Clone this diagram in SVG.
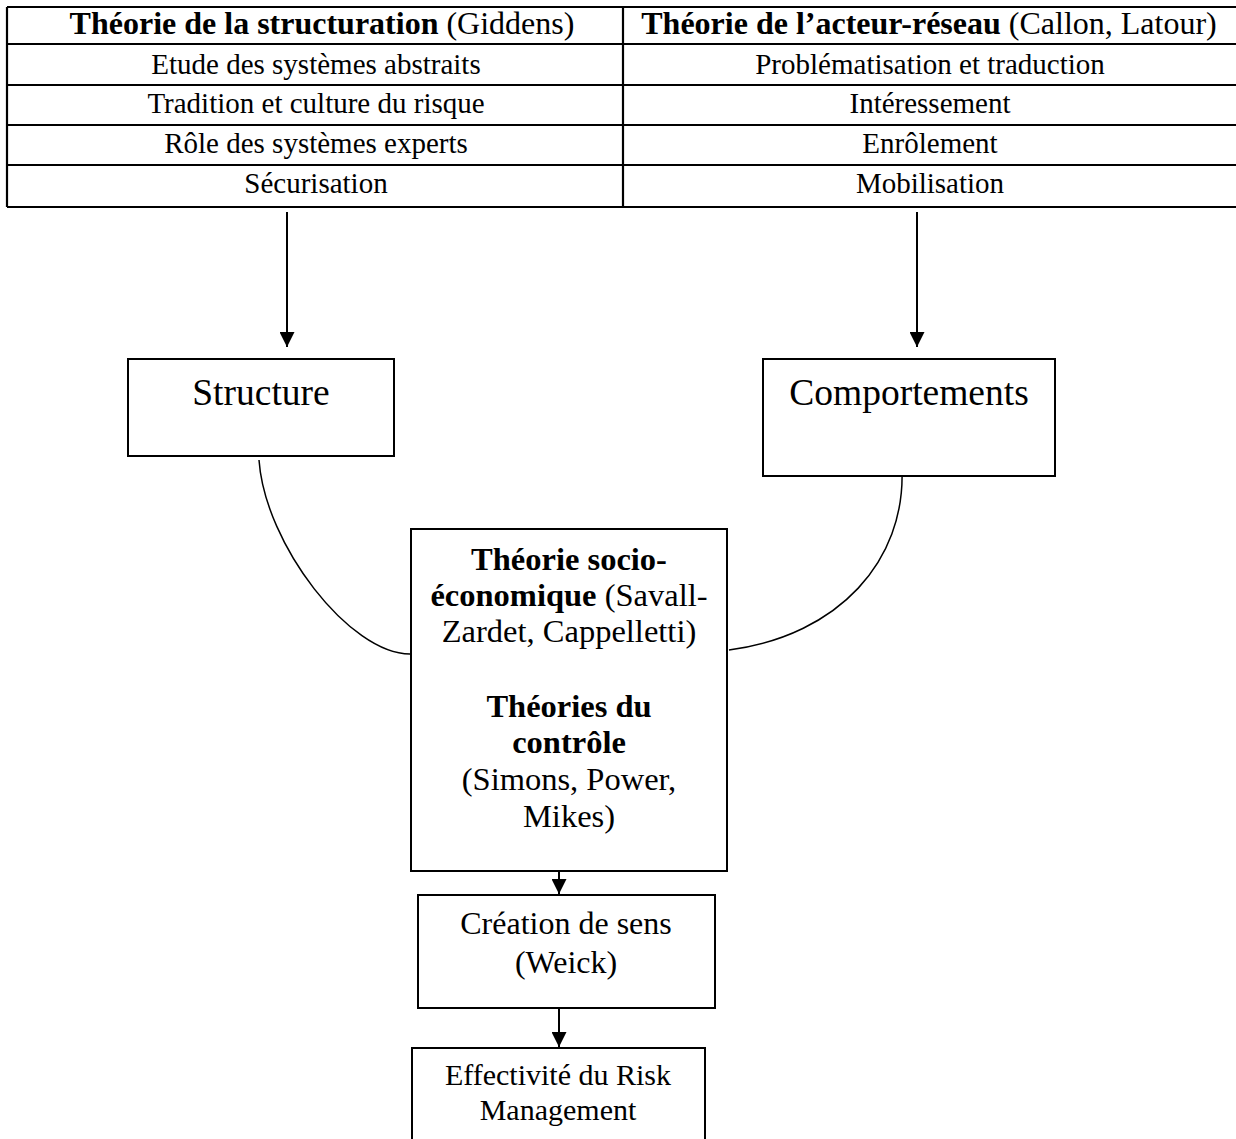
<svg xmlns="http://www.w3.org/2000/svg" width="1236" height="1139" viewBox="0 0 1236 1139">
<defs>
<style>
text{font-family:"Liberation Serif","Times New Roman",serif;fill:#000;text-anchor:middle}
.t{font-size:29px}
.h{font-size:32px}
.b{font-weight:bold}
.big{font-size:37.5px}
.mid{font-size:32.5px}
.cr{font-size:32px}
.sm{font-size:30px}
.box{fill:#fff;stroke:#000;stroke-width:2}
.grid{stroke:#000;stroke-width:2.2;fill:none}
.con{stroke:#000;stroke-width:2;fill:none}
.crv{stroke:#000;stroke-width:1.5;fill:none}
</style>
<marker id="arr" viewBox="0 0 10 10" refX="10" refY="5" markerWidth="7.5" markerHeight="7.5" markerUnits="strokeWidth" orient="auto">
<path d="M0,0 L10,5 L0,10 z" fill="#000"/>
</marker>
</defs>
<rect width="1236" height="1139" fill="#fff"/>
<g id="table">
<path class="grid" d="M7,7H1236M7,44H1236M7,85H1236M7,125H1236M7,165H1236M7,207H1236M7,7V207M623,7V207"/>
<text class="h" x="322" y="34"><tspan class="b">Théorie de la structuration</tspan> (Giddens)</text>
<text class="h" x="929" y="34"><tspan class="b">Théorie de l’acteur-réseau</tspan> (Callon, Latour)</text>
<text class="t" x="316" y="74">Etude des systèmes abstraits</text>
<text class="t" x="316" y="113">Tradition et culture du risque</text>
<text class="t" x="316" y="153">Rôle des systèmes experts</text>
<text class="t" x="316" y="193">Sécurisation</text>
<text class="t" x="930" y="74">Problématisation et traduction</text>
<text class="t" x="930" y="113">Intéressement</text>
<text class="t" x="930" y="153">Enrôlement</text>
<text class="t" x="930" y="193">Mobilisation</text>
</g>
<g id="connectors">
<line class="con" x1="287" y1="212" x2="287" y2="347" marker-end="url(#arr)"/>
<line class="con" x1="917" y1="212" x2="917" y2="347" marker-end="url(#arr)"/>
<path class="crv" d="M259,460 C265,545 350,654 410,654"/>
<path class="crv" d="M902,470 C905,560 840,635 729,650"/>
<line class="con" x1="559" y1="871" x2="559" y2="894" marker-end="url(#arr)"/>
<line class="con" x1="559" y1="1008" x2="559" y2="1047" marker-end="url(#arr)"/>
</g>
<g id="structure">
<rect class="box" x="128" y="359" width="266" height="97"/>
<text class="big" x="261" y="405">Structure</text>
</g>
<g id="comportements">
<rect class="box" x="763" y="359" width="292" height="117"/>
<text class="big" x="909" y="405">Comportements</text>
</g>
<g id="theories">
<rect class="box" x="411" y="529" width="316" height="342"/>
<text class="mid b" x="569" y="570">Théorie socio-</text>
<text class="mid" x="569" y="606"><tspan class="b">économique</tspan> (Savall-</text>
<text class="mid" x="569" y="642">Zardet, Cappelletti)</text>
<text class="mid b" x="569" y="717">Théories du</text>
<text class="mid b" x="569" y="753">contrôle</text>
<text class="mid" x="569" y="790">(Simons, Power,</text>
<text class="mid" x="569" y="827">Mikes)</text>
</g>
<g id="creation">
<rect class="box" x="418" y="895" width="297" height="113"/>
<text class="cr" x="566" y="934">Création de sens</text>
<text class="cr" x="566" y="973">(Weick)</text>
</g>
<g id="effectivite">
<rect class="box" x="412" y="1048" width="293" height="110"/>
<text class="sm" x="558" y="1085">Effectivité du Risk</text>
<text class="sm" x="558" y="1120">Management</text>
</g>
</svg>
